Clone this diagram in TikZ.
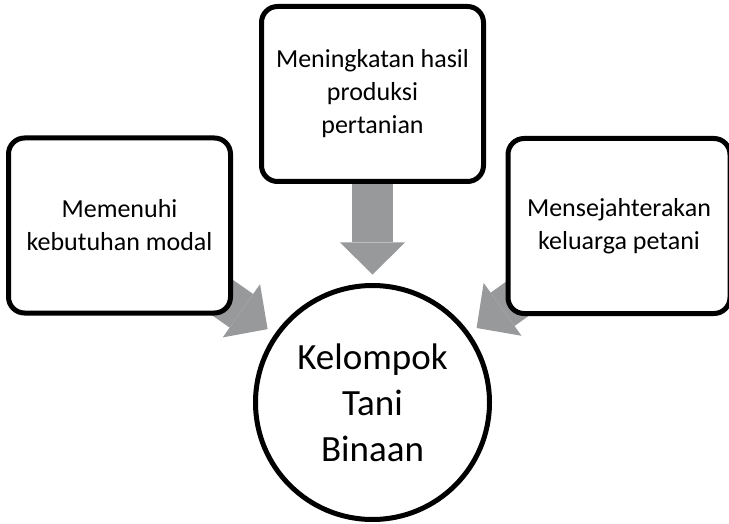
\documentclass[tikz,border=0pt]{standalone}
\usepackage{fontspec}
\setmainfont{Carlito}
\usepackage{tikz}
\usetikzlibrary{arrows.meta, positioning, calc, backgrounds}
\definecolor{flow}{RGB}{152, 153, 155}

\begin{document}
\begin{tikzpicture}[
    x=1pt, y=-1pt,
    box/.style = {rectangle, rounded corners=16pt, draw, line width=5pt, fill=white,
                  minimum width=222pt, minimum height=175pt, align=center,
                  font=\fontsize{26}{33}\selectfont},
    hub/.style = {circle, draw, line width=5pt, fill=white, minimum size=234pt,
                  align=center, font=\fontsize{37}{46}\selectfont},
    flowarrow/.style = {draw=flow, line width=41pt,
                  -{Triangle[width=65pt, length=32pt, line width=0pt]}}
  ]
    \useasboundingbox (0,0) rectangle (729,524);

    \node[hub] (kel) at (372.5,402.5) {Kelompok\\Tani\\Binaan};

    \node[box, above=99pt of kel] (hasil)
      {Meningkatan hasil\\produksi\\pertanian};

    \node[box] (modal) at (119.5,225.5)
      {Memenuhi\\kebutuhan modal};

    \node[box] (sejahtera) at (619,226)
      {Mensejahterakan\\keluarga petani};

    \begin{scope}[on background layer]
      \draw[flowarrow] (modal.center) -- ($(kel.center)!128pt!(modal.center)$);
      \draw[flowarrow] (hasil.center) -- ($(kel.center)!128pt!(hasil.center)$);
      \draw[flowarrow] (sejahtera.center) -- ($(kel.center)!128pt!(sejahtera.center)$);
    \end{scope}
  \end{tikzpicture}
\end{document}
